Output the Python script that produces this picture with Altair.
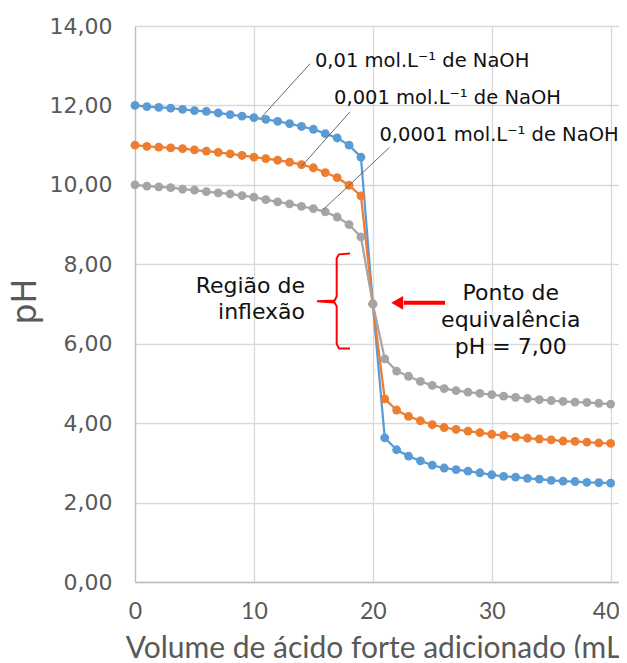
import altair as alt
import pandas as pd

# ---------------- data ----------------
volume = list(range(41))
ph_001 = [12.00, 11.97, 11.95, 11.93, 11.90, 11.87, 11.85, 11.81, 11.77, 11.73,
          11.69, 11.65, 11.60, 11.54, 11.47, 11.40, 11.29, 11.18, 11.00, 10.70,
          7.00, 3.63, 3.33, 3.17, 3.05, 2.94, 2.87, 2.83, 2.79, 2.75,
          2.70, 2.66, 2.64, 2.61, 2.59, 2.56, 2.54, 2.53, 2.51, 2.50, 2.49]
ph_0001 = [11.00, 10.97, 10.95, 10.93, 10.91, 10.88, 10.85, 10.82, 10.78, 10.74,
           10.70, 10.66, 10.62, 10.57, 10.51, 10.43, 10.31, 10.18, 9.99, 9.72,
           7.00, 4.61, 4.33, 4.17, 4.06, 3.96, 3.89, 3.84, 3.80, 3.76,
           3.72, 3.69, 3.65, 3.62, 3.60, 3.58, 3.55, 3.54, 3.52, 3.50, 3.49]
ph_00001 = [10.00, 9.97, 9.95, 9.93, 9.89, 9.87, 9.83, 9.80, 9.77, 9.73,
            9.69, 9.63, 9.57, 9.52, 9.46, 9.40, 9.32, 9.19, 9.00, 8.69,
            7.00, 5.62, 5.31, 5.18, 5.05, 4.95, 4.87, 4.82, 4.78, 4.75,
            4.72, 4.68, 4.65, 4.62, 4.59, 4.57, 4.55, 4.53, 4.52, 4.50, 4.48]
series_names = ["0,01", "0,001", "0,0001"]
series_colors = ["#5b9bd5", "#ed7d31", "#a5a5a5"]

x_ticks = [0, 10, 20, 30, 40]
y_ticks = [0, 2, 4, 6, 8, 10, 12, 14]

# annotation anchors (data units)
label_text = ["0,01 mol.L\u207b\u00b9 de NaOH", "0,001 mol.L\u207b\u00b9 de NaOH",
              "0,0001 mol.L\u207b\u00b9 de NaOH"]
label_x = [15.13, 16.74, 20.55]
label_y = [12.97, 12.03, 11.10]
leader_x = [14.72, 18.08, 21.39]
leader_y = [13.05, 11.84, 10.94]
leader_x2 = [10.66, 14.02, 15.84]
leader_y2 = [11.71, 10.47, 9.38]

brace_x = [18.08, 17.16, 16.96, 16.96, 16.78, 15.31, 16.78, 16.96, 16.96, 17.16, 18.08]
brace_y = [8.27, 8.25, 8.15, 7.19, 7.09, 7.07, 7.04, 6.94, 5.99, 5.88, 5.88]

arrow_tip_x = 22.05
arrow_start_x = 22.6
arrow_end_x = 26.07
arrow_y = 7.03

inflex_text = "Região de\ninflexão"
inflex_x, inflex_y = 14.30, 7.27
equiv_text = "Ponto de\nequivalência\npH = 7,00"
equiv_x, equiv_y = 31.6, 7.10

# ---------------- build tables ----------------
rows = []
for name, vals in zip(series_names, [ph_001, ph_0001, ph_00001]):
    for v, p in zip(volume, vals):
        rows.append({"V": v, "pH": p, "serie": name})
df = pd.DataFrame(rows)

labels_df = pd.DataFrame({"V": label_x, "pH": label_y, "t": label_text})
leaders_df = pd.DataFrame({"V": leader_x, "pH": leader_y, "V2": leader_x2, "pH2": leader_y2})
brace_df = pd.DataFrame({"V": brace_x, "pH": brace_y, "o": list(range(len(brace_x)))})
arrow_df = pd.DataFrame({"V": [arrow_start_x], "V2": [arrow_end_x], "pH": [arrow_y]})
tip_df = pd.DataFrame({"V": [arrow_tip_x], "pH": [arrow_y]})
inflex_df = pd.DataFrame({"V": [inflex_x], "pH": [inflex_y], "t": [inflex_text]})
equiv_df = pd.DataFrame({"V": [equiv_x], "pH": [equiv_y], "t": [equiv_text]})

x_scale = alt.Scale(domain=[0, 40.7], nice=False, zero=False)
y_scale = alt.Scale(domain=[0, 14], nice=False)

x_axis = alt.Axis(values=x_ticks, grid=True, gridColor="#d9d9d9", gridWidth=1.3,
                  domainColor="#bfbfbf", domainWidth=1.3, ticks=False,
                  labelFont="Lato", labelFontSize=23, labelColor="#595959",
                  labelPadding=18, labelFlush=False,
                  labelOffset={"condition": {"test": "datum.value == 40", "value": -5},
                               "value": 0},
                  title="Volume de ácido forte adicionado (mL)", titleFont="Lato",
                  titleFontSize=30, titleFontWeight="normal", titleColor="#595959",
                  titleBaseline="alphabetic", titleY=75)
y_axis = alt.Axis(values=y_ticks, grid=True, gridColor="#d9d9d9", gridWidth=1.3,
                  domainColor="#bfbfbf", domainWidth=1.3, ticks=False,
                  labelFont="DejaVu Sans", labelFontSize=22, labelColor="#595959",
                  labelPadding=23,
                  labelExpr="replace(format(datum.value, '.2f'), '.', ',')",
                  title="pH", titleFont="DejaVu Sans", titleFontSize=33,
                  titleFontWeight="normal", titleColor="#595959",
                  titleBaseline="alphabetic", titleX=-100, titleY=275, titleAngle=-90)

X = alt.X("V:Q", scale=x_scale, axis=x_axis)
Y = alt.Y("pH:Q", scale=y_scale, axis=y_axis)
color = alt.Color("serie:N", scale=alt.Scale(domain=series_names, range=series_colors),
                  legend=None)

lines = alt.Chart(df).mark_line(strokeWidth=2.25).encode(
    x=X, y=Y, color=color, order="V:Q")
points = alt.Chart(df).mark_point(filled=True, size=78, opacity=1).encode(
    x=X, y=Y, color=color)

leaders = alt.Chart(leaders_df).mark_rule(color="#595959", strokeWidth=0.9).encode(
    x="V:Q", y="pH:Q", x2="V2:Q", y2="pH2:Q")
labels = alt.Chart(labels_df).mark_text(
    align="left", baseline="alphabetic", font="DejaVu Sans", fontSize=19.5,
    color="#111111").encode(x="V:Q", y="pH:Q", text="t:N")

brace = alt.Chart(brace_df).mark_line(color="#ff0000", strokeWidth=2).encode(
    x="V:Q", y="pH:Q", order="o:Q")
arrow = alt.Chart(arrow_df).mark_rule(color="#ff0000", strokeWidth=4).encode(
    x="V:Q", x2="V2:Q", y="pH:Q")
tip = alt.Chart(tip_df).mark_point(shape="triangle-left", filled=True, size=190,
                                   color="#ff0000", opacity=1).encode(x="V:Q", y="pH:Q")

inflex = alt.Chart(inflex_df).mark_text(
    align="right", baseline="alphabetic", font="DejaVu Sans", fontSize=22,
    lineBreak="\n", lineHeight=26, color="#111111").encode(x="V:Q", y="pH:Q", text="t:N")
equiv = alt.Chart(equiv_df).mark_text(
    align="center", baseline="alphabetic", font="DejaVu Sans", fontSize=22,
    lineBreak="\n", lineHeight=27, color="#111111").encode(x="V:Q", y="pH:Q", text="t:N")

chart = alt.layer(lines, points, leaders, labels, brace, arrow, tip, inflex, equiv).properties(
    width=484, height=556,
    autosize=alt.AutoSizeParams(type="none"),
    padding={"left": 127, "top": 18, "right": 0, "bottom": 76},
).configure_view(strokeWidth=0)

chart.save("out.html", embed_options={"renderer": "svg", "actions": False})
